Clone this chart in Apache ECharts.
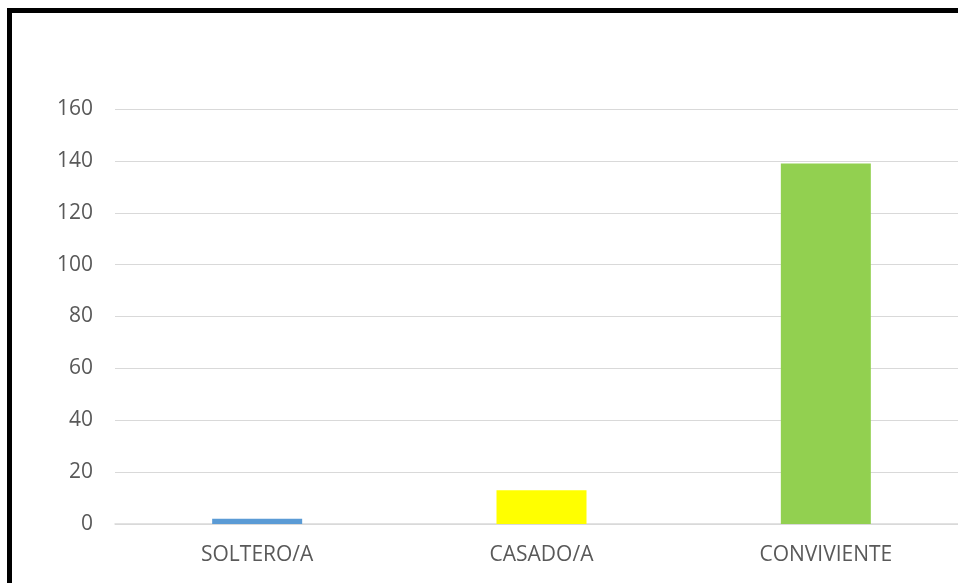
<!DOCTYPE html>
<html>
<head>
<meta charset="utf-8">
<style>
  html, body { margin: 0; padding: 0; background: #fff; overflow: hidden; }
  #chart { width: 958px; height: 583px; }
</style>
<script src="https://cdn.jsdelivr.net/npm/echarts@6/dist/echarts.min.js"></script>
</head>
<body>
<div id="chart"></div>
<script>
// Estado civil: número de personas por categoría
const categories = ['SOLTERO/A', 'CASADO/A', 'CONVIVIENTE'];
const values = [2, 13, 139];
const barColors = ['#5B9BD5', '#FFFF00', '#92D050'];
const yTicks = [0, 20, 40, 60, 80, 100, 120, 140, 160];

const chart = echarts.init(document.getElementById('chart'), null, { renderer: 'canvas' });

const font = '"Open Sans", "Liberation Sans", sans-serif';

chart.setOption({
  animation: false,
  backgroundColor: '#ffffff',
  graphic: [{
    type: 'rect',
    z: 100,
    silent: true,
    shape: { x: 9.5, y: 10.5, width: 1000, height: 700 },
    style: { fill: 'none', stroke: '#000000', lineWidth: 5 }
  }],
  // plot area runs a little past the right edge of the canvas
  grid: {
    left: 115, width: 853, top: 109, height: 415,
    containLabel: false, outerBoundsMode: 'none'
  },
  xAxis: {
    type: 'category',
    data: categories,
    axisTick: { show: false },
    axisLine: { show: true, lineStyle: { color: '#D9D9D9', width: 1.5 } },
    axisLabel: { color: '#595959', fontSize: 21, fontFamily: font, margin: 21 }
  },
  yAxis: {
    type: 'value',
    min: yTicks[0],
    max: yTicks[yTicks.length - 1],
    interval: yTicks[1] - yTicks[0],
    axisLine: { show: false },
    axisTick: { show: false },
    splitLine: { lineStyle: { color: '#D9D9D9', width: 1 } },
    axisLabel: {
      color: '#595959', fontSize: 21, fontFamily: font, margin: 22,
      padding: [5, 0, 0, 0]
    }
  },
  series: [{
    type: 'bar',
    barWidth: 90,
    data: values.map((v, i) => ({ value: v, itemStyle: { color: barColors[i] } }))
  }]
});
</script>
</body>
</html>
